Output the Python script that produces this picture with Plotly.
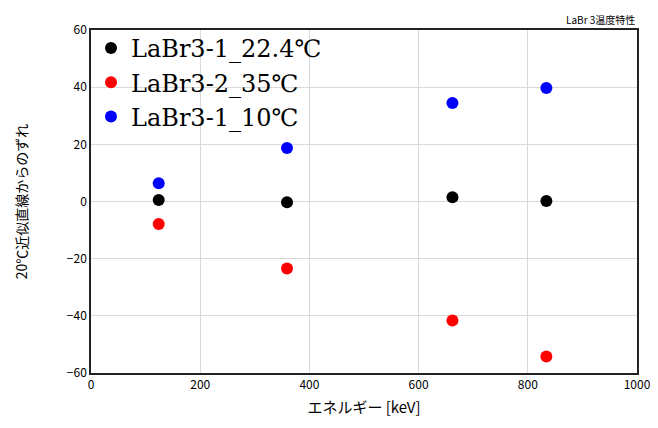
import plotly.graph_objects as go

energy = [124, 359, 662, 834]
labels = ["LaBr3-1_22.4℃", "LaBr3-2_35℃", "LaBr3-1_10℃"]
dev_224 = [0.5, -0.3, 1.5, 0.2]
dev_35 = [-7.9, -23.4, -41.6, -54.2]
dev_10 = [6.4, 18.7, 34.5, 39.7]
colors = ["#000000", "#ff0000", "#0000ff"]

fig = go.Figure()
for name, ys, c in zip(labels, [dev_224, dev_35, dev_10], colors):
    fig.add_trace(go.Scatter(x=energy, y=ys, mode="markers", name=name,
                             marker=dict(color=c, size=12)))

tickfont = dict(family="Noto Sans CJK JP", size=12, color="#000")
fig.update_layout(
    width=650, height=420,
    margin=dict(l=83, r=21, t=22, b=55),
    paper_bgcolor="white", plot_bgcolor="white",
    showlegend=True,
    legend=dict(x=0.0, y=1.012, xanchor="left", yanchor="top",
                font=dict(family="DejaVu Serif", size=24, color="#000"),
                bgcolor="rgba(0,0,0,0)", itemsizing="constant",
                tracegroupgap=0, itemwidth=30),
    annotations=[dict(text="LaBr 3温度特性", xref="paper", yref="paper",
                      x=1.0, y=1.0, xanchor="right", yanchor="bottom", yshift=1,
                      showarrow=False,
                      font=dict(family="Noto Sans CJK JP", size=10, color="#000"))],
    xaxis=dict(range=[0, 1000], tickvals=[0, 200, 400, 600, 800, 1000],
               showgrid=True, gridcolor="#d9d9d9", gridwidth=1, automargin=False,
               zeroline=False, showline=True, linecolor="#222", linewidth=1.5,
               mirror=True, ticks="", tickfont=tickfont,
               title=dict(text="エネルギー [keV]", standoff=11,
                          font=dict(family="Noto Sans CJK JP", size=15, color="#000"))),
    yaxis=dict(range=[-60, 60], tickvals=[-60, -40, -20, 0, 20, 40, 60],
               showgrid=True, gridcolor="#d9d9d9", gridwidth=1, automargin=False,
               zeroline=False, showline=True, linecolor="#222", linewidth=1.5,
               mirror=True, ticks="", tickfont=tickfont,
               title=dict(text="20℃近似直線からのずれ", standoff=36,
                          font=dict(family="Noto Sans CJK JP", size=14, color="#000"))),
)
fig.write_html("out.html")
